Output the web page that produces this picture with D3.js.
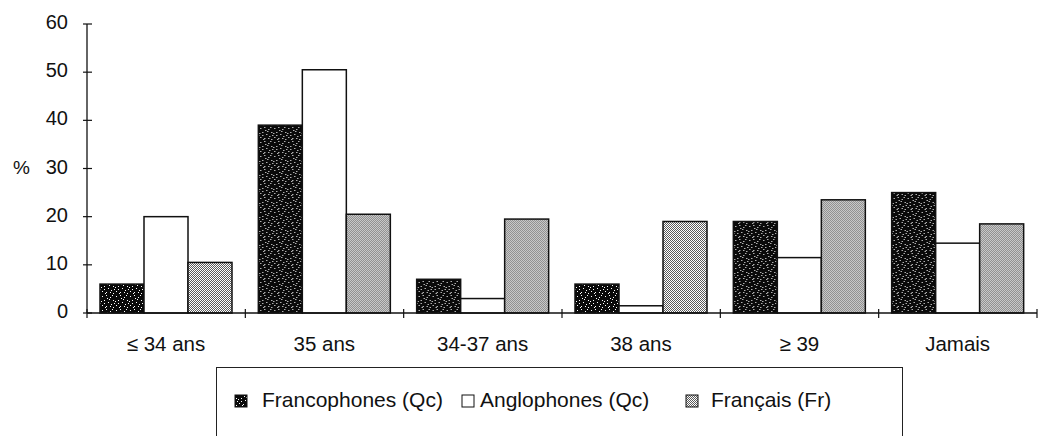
<!DOCTYPE html>
<html>
<head>
<meta charset="utf-8">
<script src="https://cdn.jsdelivr.net/npm/d3@7"></script>
<style>
  html, body { margin: 0; padding: 0; background: #fff; }
  svg { display: block; }
  text { font-family: "Liberation Sans", Arial, Helvetica, sans-serif; fill: #111; }
</style>
</head>
<body>
<svg id="chart" width="1045" height="436"></svg>
<script>
// ---- Data ----
const categories = ["\u2264 34 ans", "35 ans", "34-37 ans", "38 ans", "\u2265 39", "Jamais"];
const seriesNames = ["Francophones (Qc)", "Anglophones (Qc)", "Fran\u00e7ais (Fr)"];
const francophones = [6, 39, 7, 6, 19, 25];
const anglophones = [20, 50.5, 3, 1.5, 11.5, 14.5];
const francais = [10.5, 20.5, 19.5, 19, 23.5, 18.5];
const yTicks = [0, 10, 20, 30, 40, 50, 60];

const seriesValues = [francophones, anglophones, francais];

// ---- Layout ----
const svg = d3.select("#chart");
const plotLeft = 87, plotRight = 1037, plotTop = 24, plotBottom = 313;

const x0 = d3.scaleBand().domain(categories).range([plotLeft, plotRight]).padding(0);
const x1 = d3.scaleBand().domain(seriesNames).range([13, 145]).padding(0);
const y = d3.scaleLinear().domain([0, 60]).range([plotBottom, plotTop]);

// ---- Patterns ----
const defs = svg.append("defs");
const speck = defs.append("pattern").attr("id", "speck")
  .attr("patternUnits", "userSpaceOnUse").attr("width", 14).attr("height", 14);
speck.append("rect").attr("width", 14).attr("height", 14).attr("fill", "#0a0a0a");
const dots = [[1,2],[5,1],[9,3],[12,6],[3,6],[7,8],[10,10],[1,11],[5,12],[12,13],[8,5],[3,9],
              [11,1],[6,4],[0,7],[9,12],[13,9],[4,13]];
dots.forEach(d => speck.append("rect").attr("x", d[0]).attr("y", d[1])
  .attr("width", 1).attr("height", 1).attr("fill", "#fff"));

const check = defs.append("pattern").attr("id", "check")
  .attr("patternUnits", "userSpaceOnUse").attr("width", 2).attr("height", 2);
check.append("rect").attr("width", 2).attr("height", 2).attr("fill", "#fff");
check.append("rect").attr("x", 0).attr("y", 0).attr("width", 1).attr("height", 1).attr("fill", "#5a5a5a");
check.append("rect").attr("x", 1).attr("y", 1).attr("width", 1).attr("height", 1).attr("fill", "#5a5a5a");

const fills = ["url(#speck)", "#fff", "url(#check)"];

// ---- Bars ----
const groups = svg.append("g").selectAll("g")
  .data(categories).join("g")
  .attr("transform", d => `translate(${x0(d)},0)`);

groups.selectAll("rect")
  .data((c, i) => seriesNames.map((s, j) => ({ s, j, v: seriesValues[j][i] })))
  .join("rect")
  .attr("x", d => x1(d.s))
  .attr("y", d => y(d.v))
  .attr("width", x1.bandwidth())
  .attr("height", d => y(0) - y(d.v))
  .attr("fill", d => fills[d.j])
  .attr("stroke", "#111")
  .attr("stroke-width", 1.5);

// ---- Y axis ----
const yAxis = svg.append("g");
yAxis.append("line").attr("x1", plotLeft).attr("x2", plotLeft).attr("y1", y(60)).attr("y2", y(0))
  .attr("stroke", "#111").attr("stroke-width", 1.3);
yAxis.selectAll("line.tick").data(yTicks).join("line").attr("class", "tick")
  .attr("x1", plotLeft - 4).attr("x2", plotLeft + 5)
  .attr("y1", d => y(d)).attr("y2", d => y(d))
  .attr("stroke", "#111").attr("stroke-width", 1.2);
yAxis.selectAll("text").data(yTicks).join("text")
  .attr("x", 68).attr("y", d => y(d) - 2).attr("dy", "0.35em")
  .attr("text-anchor", "end").attr("font-size", 20)
  .text(d => d);
svg.append("text").attr("x", 13).attr("y", y(30) - 1).attr("dy", "0.35em")
  .attr("font-size", 19).text("%");

// ---- X axis ----
const xAxis = svg.append("g");
xAxis.append("line").attr("x1", plotLeft).attr("x2", plotRight).attr("y1", y(0)).attr("y2", y(0))
  .attr("stroke", "#111").attr("stroke-width", 1.3);
const boundaries = categories.map(c => x0(c)).concat([plotRight]);
xAxis.selectAll("line.tick").data(boundaries).join("line").attr("class", "tick")
  .attr("x1", d => d).attr("x2", d => d)
  .attr("y1", y(0) - 4).attr("y2", y(0) + 5)
  .attr("stroke", "#111").attr("stroke-width", 1.2);
xAxis.selectAll("text").data(categories).join("text")
  .attr("x", d => x0(d) + (x1.range()[0] + x1.range()[1]) / 2)
  .attr("y", 351)
  .attr("text-anchor", "middle").attr("font-size", 20.5)
  .text(d => d);

// ---- Legend ----
const legend = svg.append("g");
legend.append("rect").attr("x", 216.5).attr("y", 367.5).attr("width", 686).attr("height", 100)
  .attr("fill", "none").attr("stroke", "#222").attr("stroke-width", 1);
const legendItems = [
  { sq: 235, tx: 262 },
  { sq: 462, tx: 480 },
  { sq: 686, tx: 711 }
];
legendItems.forEach((it, j) => {
  legend.append("rect").attr("x", it.sq).attr("y", 395).attr("width", 12).attr("height", 12)
    .attr("fill", fills[j]).attr("stroke", "#111").attr("stroke-width", 1);
  legend.append("text").attr("x", it.tx).attr("y", 407).attr("font-size", 21)
    .text(seriesNames[j]);
});
</script>
</body>
</html>
